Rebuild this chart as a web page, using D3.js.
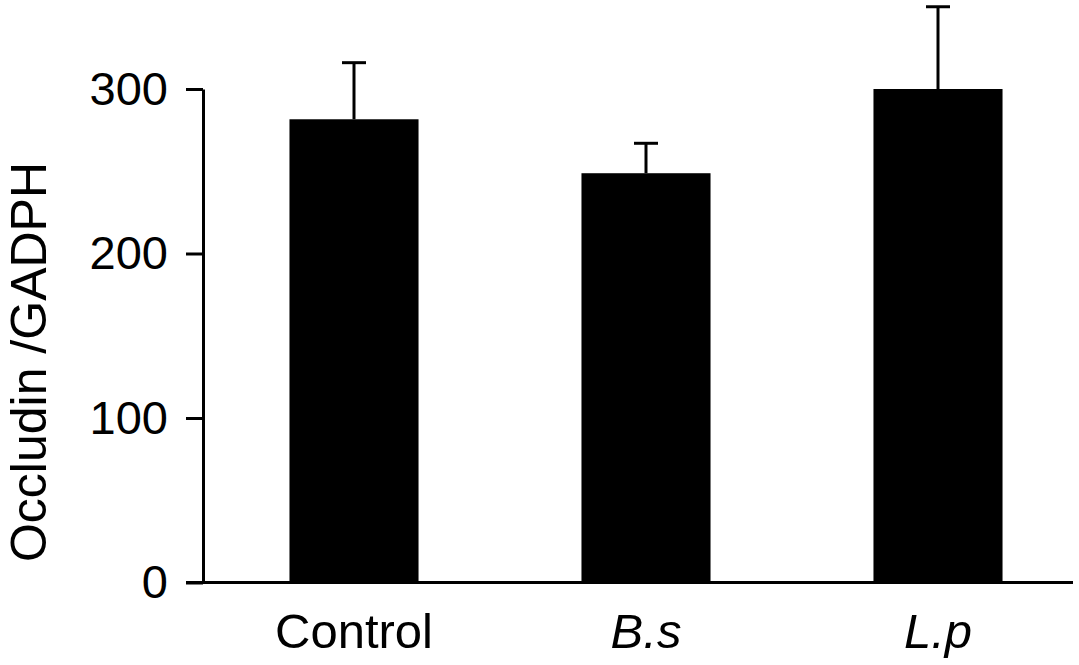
<!DOCTYPE html>
<html>
<head>
<meta charset="utf-8">
<script src="https://cdn.jsdelivr.net/npm/d3@7"></script>
<style>
  body { margin: 0; background: #fff; }
  svg { display: block; font-family: "Liberation Sans", Arial, sans-serif; }
</style>
</head>
<body>
<div id="chart"></div>
<script>
// Occludin / GADPH bar chart

let width = 1079;
let height = 665;

// data
const groups = ['Control', 'B.s', 'L.p'];
const means = [281.6, 248.8, 300.0];
const errTops = [316.0, 267.0, 350.0];
const yTicks = [0, 100, 200, 300];
const italicGroups = ['B.s', 'L.p'];

let svg = d3
  .select('#chart')
  .append('svg')
  .attr('width', width)
  .attr('height', height);

let yScale = d3.scaleLinear().domain([0, 300]).range([582.5, 89]);

let xScale = d3
  .scaleBand()
  .domain(groups)
  .range([208, 1084])
  .paddingInner(0.558)
  .paddingOuter(0.279);

let rows = groups.map((g, i) => ({ name: g, mean: means[i], top: errTops[i] }));

// error bars (drawn before bars so the stem starts under the bar top)
let err = svg.append('g').attr('stroke', '#000').attr('stroke-width', 3);
err
  .selectAll('.stem')
  .data(rows)
  .join('line')
  .attr('class', 'stem')
  .attr('x1', d => xScale(d.name) + xScale.bandwidth() / 2)
  .attr('x2', d => xScale(d.name) + xScale.bandwidth() / 2)
  .attr('y1', d => yScale(d.mean))
  .attr('y2', d => yScale(d.top));
err
  .selectAll('.cap')
  .data(rows)
  .join('line')
  .attr('class', 'cap')
  .attr('x1', d => xScale(d.name) + xScale.bandwidth() / 2 - 12)
  .attr('x2', d => xScale(d.name) + xScale.bandwidth() / 2 + 12)
  .attr('y1', d => yScale(d.top))
  .attr('y2', d => yScale(d.top));

// bars
svg
  .selectAll('.bar')
  .data(rows)
  .join('rect')
  .attr('class', 'bar')
  .attr('x', d => xScale(d.name))
  .attr('width', xScale.bandwidth())
  .attr('y', d => yScale(d.mean))
  .attr('height', d => yScale(0) - yScale(d.mean))
  .attr('fill', '#000');

// y axis
let yAxis = d3
  .axisLeft(yScale)
  .tickValues(yTicks)
  .tickSize(17)
  .tickSizeOuter(0)
  .tickPadding(18);

let yG = svg
  .append('g')
  .attr('transform', 'translate(203,0)')
  .call(yAxis);
yG.selectAll('path, line').attr('stroke', '#000').attr('stroke-width', 3);
yG.selectAll('text')
  .attr('font-size', 47)
  .attr('font-family', '"Liberation Sans", Arial, sans-serif')
  .attr('fill', '#000');

// x axis baseline
svg
  .append('line')
  .attr('x1', 186)
  .attr('x2', 1073)
  .attr('y1', yScale(0))
  .attr('y2', yScale(0))
  .attr('stroke', '#000')
  .attr('stroke-width', 3);

// x labels
svg
  .selectAll('.xlabel')
  .data(groups)
  .join('text')
  .attr('class', 'xlabel')
  .attr('x', d => xScale(d) + xScale.bandwidth() / 2)
  .attr('y', 648)
  .attr('text-anchor', 'middle')
  .attr('font-size', 49)
  .attr('font-style', d => (italicGroups.includes(d) ? 'italic' : 'normal'))
  .text(d => d);

// y axis title
svg
  .append('text')
  .attr('transform', 'translate(46,362) rotate(-90)')
  .attr('text-anchor', 'middle')
  .attr('font-size', 50)
  .text('Occludin /GADPH');
</script>
</body>
</html>
